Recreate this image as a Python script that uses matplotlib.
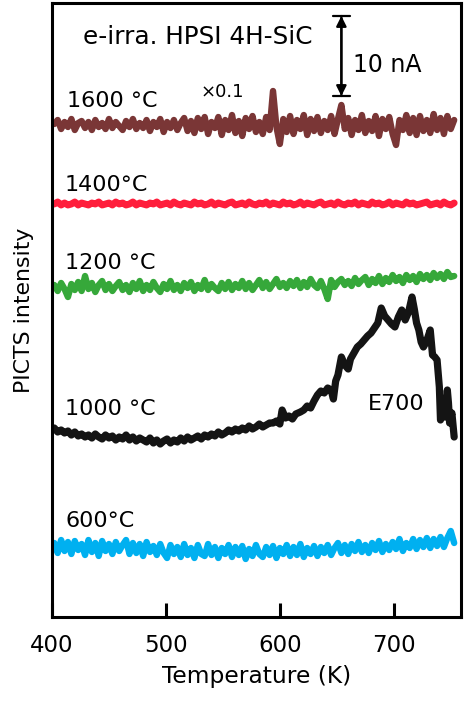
import numpy as np
import matplotlib
matplotlib.use("Agg")
import matplotlib.pyplot as plt

plt.rcParams['font.family'] = ['DejaVu Sans']

# Temperature grid (K) for the flat traces
T_grid = np.arange(402, 755, 3)

# PICTS intensity (offset, arbitrary units; 79 units = 10 nA)
h1600 = [493, 497, 488, 495, 490, 498, 487, 494, 496, 489,
         495, 487, 497, 490, 494, 488, 498, 489, 495, 491,
         487, 496, 490, 498, 488, 494, 489, 497, 486, 495,
         490, 498, 485, 495, 489, 497, 487, 494, 499, 486,
         496, 484, 499, 488, 500, 483, 495, 489, 500, 482,
         497, 487, 502, 484, 496, 481, 499, 488, 501, 485,
         495, 483, 500, 487, 526, 490, 473, 498, 485, 501,
         483, 497, 488, 502, 482, 498, 486, 500, 484, 496,
         487, 501, 483, 498, 512, 488, 499, 482, 497, 487,
         502, 484, 496, 486, 501, 481, 498, 488, 500, 483,
         472, 497, 487, 502, 484, 499, 482, 501, 486, 497,
         484, 503, 487, 499, 483, 501, 488, 497]

h1400 = [413, 415, 412, 414, 412, 413, 415, 412, 414, 413,
         412, 414, 413, 415, 412, 413, 414, 412, 415, 413,
         414, 412, 413, 415, 412, 414, 413, 412, 414, 413,
         415, 412, 413, 414, 412, 415, 413, 412, 414, 413,
         412, 415, 413, 414, 412, 413, 415, 412, 414, 413,
         412, 414, 415, 412, 413, 414, 412, 415, 413, 412,
         414, 413, 415, 412, 414, 413, 412, 415, 413, 414,
         412, 413, 415, 412, 414, 413, 412, 414, 415, 412,
         413, 414, 412, 415, 413, 412, 414, 413, 415, 412,
         414, 413, 412, 415, 413, 414, 412, 413, 415, 412,
         414, 413, 412, 415, 413, 414, 412, 413, 414, 415,
         412, 413, 414, 412, 415, 413, 412, 414]

h1200 = [332, 326, 334, 328, 320, 333, 327, 335, 326, 341,
         328, 334, 325, 332, 336, 327, 333, 326, 331, 335,
         327, 332, 325, 334, 328, 336, 326, 332, 327, 335,
         329, 325, 333, 328, 336, 327, 332, 326, 334, 329,
         335, 326, 332, 328, 337, 327, 333, 329, 326, 334,
         328, 335, 327, 333, 329, 336, 328, 334, 327, 332,
         337, 329, 335, 328, 333, 338, 330, 334, 329, 336,
         331, 337, 329, 335, 330, 338, 332, 329, 336, 328,
         318, 337, 330, 335, 338, 332, 336, 331, 339, 333,
         337, 340, 332, 338, 334, 341, 333, 339, 335, 342,
         336, 340, 334, 342, 337, 341, 335, 343, 338, 342,
         337, 344, 339, 343, 338, 345, 340, 341]

h600 = [74, 64, 77, 66, 75, 63, 76, 67, 73, 62,
        77, 65, 74, 61, 76, 66, 73, 63, 75, 66,
        72, 77, 63, 74, 64, 73, 61, 75, 65, 71,
        62, 73, 64, 59, 72, 63, 70, 60, 73, 62,
        69, 59, 72, 63, 61, 73, 62, 70, 59, 69,
        63, 72, 60, 70, 62, 71, 58, 68, 61, 72,
        63, 60, 70, 62, 71, 59, 69, 63, 72, 61,
        70, 62, 73, 60, 69, 63, 71, 61, 70, 64,
        72, 62, 69, 74, 64, 72, 63, 73, 66, 75,
        65, 72, 64, 74, 67, 76, 65, 73, 67, 75,
        68, 78, 66, 74, 69, 78, 68, 77, 70, 79,
        69, 78, 71, 80, 70, 79, 86, 74]

T1000 = np.concatenate([
    np.arange(402, 594, 3),
    [594, 597, 600, 602, 605, 608, 611, 614, 618, 621, 624, 627, 630, 633,
     636, 639, 642, 645, 647, 649, 651, 654, 657, 660, 662, 665, 668, 671,
     674, 677, 680, 683, 686, 689, 692, 695, 698, 701, 704, 707, 710, 713,
     716, 718, 720, 722, 724, 726, 728, 730, 732, 734, 736, 738, 740, 741,
     743, 745, 747, 748, 749, 751, 753]])
h1000 = [189, 185, 187, 184, 186, 182, 185, 181, 183, 180,
         182, 179, 183, 180, 178, 182, 179, 181, 177, 180,
         178, 182, 177, 180, 176, 179, 177, 175, 179, 174,
         177, 173, 176, 178, 174, 177, 175, 179, 176, 180,
         177, 179, 181, 178, 182, 180, 183, 181, 185, 182,
         184, 187, 185, 188, 186, 189, 187, 191, 188, 190,
         193, 190, 192, 194,
         194, 196, 193, 207, 199, 201, 198, 203, 205, 207, 211, 209, 216, 222,
         226, 224, 229, 227, 218, 236, 242, 260, 252, 248, 258, 264, 270, 273,
         277, 281, 284, 289, 294, 309, 301, 297, 293, 290, 300, 307, 297, 305,
         320, 308, 294, 287, 275, 270, 274, 280, 287, 262, 260, 257, 230, 197,
         205, 200, 227, 214, 194, 204, 180]

series = [
    (T_grid, h1600, '#7a3636', 4.6),
    (T_grid, h1400, '#ff1e3c', 5.0),
    (T_grid, h1200, '#36a83a', 4.6),
    (T1000, h1000, '#141414', 5.2),
    (T_grid, h600, '#00b0f0', 4.6),
]

labels = ['1600 \u00b0C', '1400\u00b0C', '1200 \u00b0C', '1000 \u00b0C', '600\u00b0C']
label_T = [413, 411, 411, 411, 412]
label_h = [510, 426, 348, 202, 90]

fig = plt.figure(figsize=(4.65, 7.03), dpi=100)
ax = fig.add_axes([52 / 465, 1 - 617 / 703, (461 - 52) / 465, (617 - 3) / 703])

for T, h, c, lw in series:
    ax.plot(T, h, color=c, lw=lw, solid_joinstyle='round', solid_capstyle='round')

fs = 16
for lab, tx, hy in zip(labels, label_T, label_h):
    ax.text(tx, hy, lab, fontsize=fs, ha='left', va='baseline')

ax.text(427, 573, 'e-irra. HPSI 4H-SiC', fontsize=17.8, ha='left', va='baseline')
ax.text(530, 520, '\u00d70.1', fontsize=13, ha='left', va='baseline')
ax.text(677, 207, 'E700', fontsize=16, ha='left', va='baseline')
ax.text(664, 545, '10 nA', fontsize=17, ha='left', va='baseline')

# 10 nA scale bar
ax.annotate('', xy=(654, 601), xytext=(654, 521),
            arrowprops=dict(arrowstyle='<|-|>', lw=1.6, color='k',
                            mutation_scale=15, shrinkA=0, shrinkB=0))
ax.annotate('', xy=(654, 601), xytext=(654, 521),
            arrowprops=dict(arrowstyle='|-|, widthA=0.6, widthB=0.6', lw=1.6, color='k',
                            shrinkA=0, shrinkB=0))

ax.set_xlim(400, 759)
ax.set_ylim(0, 614)
ax.set_xticks([400, 500, 600, 700])
ax.set_yticks([])
ax.tick_params(axis='x', direction='in', length=10, width=2.2, pad=12, labelsize=16.5)
for s in ax.spines.values():
    s.set_linewidth(2.2)

ax.set_xlabel('Temperature (K)', fontsize=16.8, labelpad=6)
ax.set_ylabel('PICTS intensity', fontsize=15.8, labelpad=13)

fig.savefig('out.png', dpi=100)
